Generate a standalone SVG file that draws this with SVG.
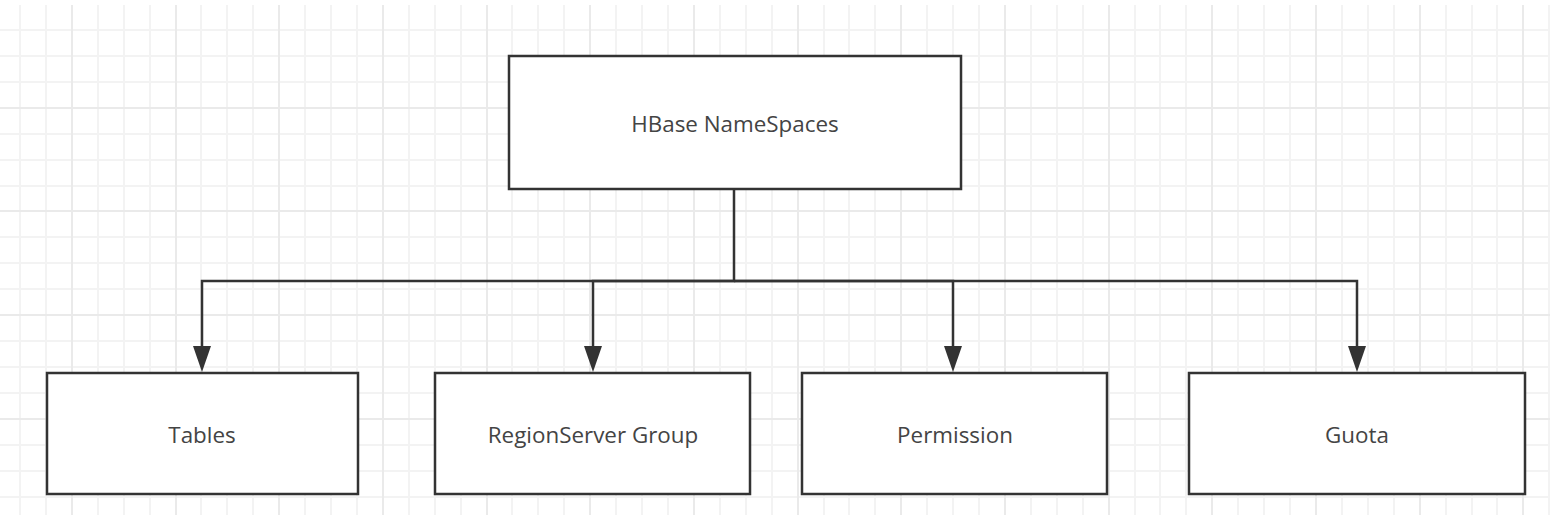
<svg xmlns="http://www.w3.org/2000/svg" width="1550" height="515" viewBox="0 0 1550 515">
<style>
.minor{stroke:#f3f3f3;stroke-width:2;fill:none}
.major{stroke:#eaeaea;stroke-width:2;fill:none}
.box{fill:#ffffff;stroke:#333333;stroke-width:2.5}
.lbl{font-family:"Open Sans","Liberation Sans",Arial,sans-serif;font-size:22.4px;fill:#444444;text-anchor:middle;dominant-baseline:central}
.conn{fill:none;stroke:#333333;stroke-width:2.5}
</style>
<defs>
<marker id="arrow" markerUnits="userSpaceOnUse" markerWidth="30" markerHeight="22" viewBox="0 -11 30 22" refX="0" refY="0" orient="auto" overflow="visible">
<path d="M0,-9 L26,0 L0,9 Z" fill="#333333"/>
</marker>
</defs>
<rect x="0" y="0" width="1550" height="515" fill="#ffffff"/>
<g id="grid">
<path class="minor" d="M20 5V515M46 5V515M98 5V515M124 5V515M150 5V515M201 5V515M227 5V515M253 5V515M305 5V515M331 5V515M357 5V515M409 5V515M435 5V515M461 5V515M512 5V515M538 5V515M564 5V515M616 5V515M642 5V515M668 5V515M720 5V515M746 5V515M772 5V515M824 5V515M849 5V515M875 5V515M927 5V515M953 5V515M979 5V515M1031 5V515M1057 5V515M1083 5V515M1135 5V515M1160 5V515M1186 5V515M1238 5V515M1264 5V515M1290 5V515M1342 5V515M1368 5V515M1394 5V515M1446 5V515M1472 5V515M1497 5V515M1549 5V515M0 30H1550M0 56H1550M0 82H1550M0 134H1550M0 160H1550M0 186H1550M0 237H1550M0 263H1550M0 289H1550M0 341H1550M0 367H1550M0 393H1550M0 445H1550M0 471H1550M0 497H1550"/>
<path class="major" d="M72 5V515M176 5V515M279 5V515M383 5V515M487 5V515M590 5V515M694 5V515M798 5V515M901 5V515M1005 5V515M1109 5V515M1212 5V515M1316 5V515M1420 5V515M1523 5V515M0 108H1550M0 211H1550M0 315H1550M0 419H1550"/>
</g>
<g id="connectors">
<path class="conn" d="M734 189V281H202V346" marker-end="url(#arrow)"/>
<path class="conn" d="M734 281H593V346" marker-end="url(#arrow)"/>
<path class="conn" d="M734 281H953V346" marker-end="url(#arrow)"/>
<path class="conn" d="M734 281H1357V346" marker-end="url(#arrow)"/>
</g>
<g id="node-hbase">
<rect class="box" x="509" y="56" width="452" height="133"/>
<text class="lbl" x="735" y="123">HBase NameSpaces</text>
</g>
<g id="node-tables">
<rect class="box" x="47" y="373" width="311" height="121"/>
<text class="lbl" x="202" y="434">Tables</text>
</g>
<g id="node-regionserver">
<rect class="box" x="435" y="373" width="315" height="121"/>
<text class="lbl" x="593" y="434">RegionServer Group</text>
</g>
<g id="node-permission">
<rect class="box" x="802" y="373" width="305" height="121"/>
<text class="lbl" x="955" y="434">Permission</text>
</g>
<g id="node-guota">
<rect class="box" x="1189" y="373" width="336" height="121"/>
<text class="lbl" x="1357" y="434">Guota</text>
</g>
</svg>
